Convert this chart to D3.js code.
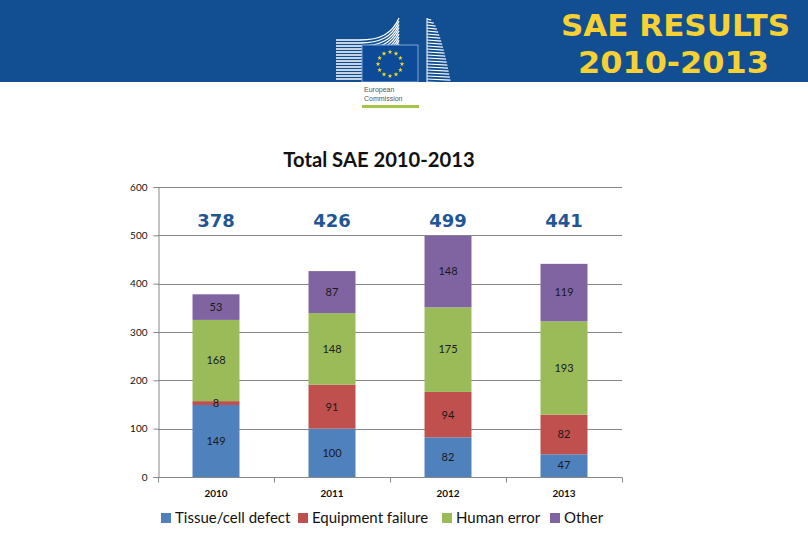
<!DOCTYPE html>
<html><head><meta charset="utf-8">
<script src="https://cdn.jsdelivr.net/npm/d3@7"></script>
<style>body{margin:0;background:#fff}svg{display:block}</style>
</head><body>
<svg id="c" width="808" height="542"></svg>
<script>
const categories = ["2010","2011","2012","2013"];
const seriesNames = ["Tissue/cell defect","Equipment failure","Human error","Other"];
const tissue = [149,100,82,47];
const equipment = [8,91,94,82];
const human = [168,148,175,193];
const other = [53,87,148,119];
const yTicks = [0,100,200,300,400,500,600];
const colors = ["#4F81BD","#C0504D","#9BBB59","#8064A2"];

const svg = d3.select("#c");
// header band
svg.append("rect").attr("x",0).attr("y",0).attr("width",808).attr("height",82).attr("fill","#114F92");
// header title
const ht = svg.append("g").attr("font-family","DejaVu Sans, Verdana, sans-serif").attr("font-weight","bold")
  .attr("fill","#F7D033").attr("text-anchor","middle").attr("font-size",31);
ht.append("text").attr("x",675.5).attr("y",36).attr("textLength",229).attr("lengthAdjust","spacingAndGlyphs").text("SAE RESULTS");
ht.append("text").attr("x",673.5).attr("y",73).attr("textLength",191).attr("lengthAdjust","spacingAndGlyphs").text("2010-2013");

// logo
const logo = svg.append("g");
for(let i=0;i<14;i++){
  const yl = 40 + i*3;
  const yr = 18 + i*3.2;
  logo.append("path").attr("d",`M336,${yl} L360,${yl} C380,${yl} 392,${yl-6} 399,${yr}`)
    .attr("fill","none").attr("stroke","#fff").attr("stroke-width",1.3);
}
for(let i=0;i<22;i++){
  const yy = 19 + i*3;
  const t = (yy-18)/64;
  const xr = 429 + 22*Math.pow(t,0.55);
  logo.append("line").attr("x1",427).attr("x2",xr).attr("y1",yy).attr("y2",yy+1.2).attr("stroke","#fff").attr("stroke-width",1.2);
}
logo.append("line").attr("x1",427).attr("x2",427).attr("y1",18).attr("y2",82).attr("stroke","#fff").attr("stroke-width",1);
logo.append("rect").attr("x",362).attr("y",45).attr("width",56).attr("height",37).attr("fill","#0D4A98").attr("stroke","#7FA6D6").attr("stroke-width",1);
const starPath = d3.symbol().type(d3.symbolStar).size(7)();
for(let k=0;k<12;k++){
  const a = k*Math.PI/6;
  logo.append("path").attr("d",starPath).attr("fill","#F5E021")
    .attr("transform",`translate(${390+12*Math.sin(a)},${64-12*Math.cos(a)})`);
}
svg.append("rect").attr("x",0).attr("y",82).attr("width",808).attr("height",1).attr("fill","#fff");
const lt = svg.append("g").attr("font-family","Liberation Sans, Arial, sans-serif").attr("font-size",7).attr("fill","#555");
lt.append("text").attr("x",364).attr("y",92).text("European");
lt.append("text").attr("x",364).attr("y",101).text("Commission");
svg.append("rect").attr("x",362).attr("y",105).attr("width",57).attr("height",3).attr("fill","#A6C448");

// chart title
svg.append("text").attr("x",379).attr("y",167).attr("text-anchor","middle")
  .attr("font-family","Lato, Open Sans, sans-serif").attr("font-weight","bold").attr("font-size",20.2)
  .attr("fill","#111").text("Total SAE 2010-2013");

// scales
const x = d3.scaleBand().domain(categories).range([158,622]).paddingInner(0.595).paddingOuter(0.2975);
const y = d3.scaleLinear().domain([0,600]).range([477,187]);

// gridlines
svg.append("g").selectAll("line").data(yTicks.filter(d=>d>0)).join("line")
  .attr("x1",158).attr("x2",622).attr("y1",d=>Math.round(y(d))+0.5).attr("y2",d=>Math.round(y(d))+0.5)
  .attr("stroke","#878787").attr("stroke-width",1);

// stacked data
const rows = categories.map((c,i)=>({cat:c, s0:tissue[i], s1:equipment[i], s2:human[i], s3:other[i]}));
const stack = d3.stack().keys(["s0","s1","s2","s3"])(rows);

const layers = svg.append("g").selectAll("g").data(stack).join("g").attr("fill",(d,i)=>colors[i]);
layers.selectAll("rect").data(d=>d).join("rect")
  .attr("x",d=>x(d.data.cat)).attr("width",x.bandwidth())
  .attr("y",d=>y(d[1])).attr("height",d=>y(d[0])-y(d[1]));

// segment labels
const lab = svg.append("g").attr("font-family","Lato, Open Sans, sans-serif").attr("font-size",11).attr("fill","#1a1a1a").attr("text-anchor","middle");
stack.forEach(layer=>{
  layer.forEach(d=>{
    lab.append("text").attr("x",x(d.data.cat)+x.bandwidth()/2)
      .attr("y",(y(d[0])+y(d[1]))/2).attr("dy","0.35em").text(d[1]-d[0]);
  });
});

// totals
svg.append("g").selectAll("text").data(rows).join("text")
  .attr("x",d=>x(d.cat)+x.bandwidth()/2).attr("y",227).attr("text-anchor","middle")
  .attr("font-family","DejaVu Sans, Verdana, sans-serif").attr("font-weight","bold").attr("font-size",18)
  .attr("fill","#1F5796").text(d=>d.s0+d.s1+d.s2+d.s3);

// y axis
const yAxis = d3.axisLeft(y).tickValues(yTicks).tickSize(5).tickPadding(6);
const ya = svg.append("g").attr("transform","translate(158.5,0)").call(yAxis);
ya.select(".domain").attr("stroke","#878787");
ya.selectAll(".tick line").attr("stroke","#878787");
ya.selectAll("text").attr("font-family","Lato, Open Sans, sans-serif").attr("font-size",10).attr("fill","#111");

// x axis
const xa = svg.append("g").attr("transform","translate(0,477.5)");
xa.append("line").attr("x1",158).attr("x2",622).attr("stroke","#878787");
const bounds = categories.map(c=>x(c)-x.step()*x.paddingOuter()).concat([622]);
xa.selectAll("line.tk").data(bounds).join("line").attr("class","tk")
  .attr("x1",d=>Math.round(d)+0.5).attr("x2",d=>Math.round(d)+0.5).attr("y1",0).attr("y2",5).attr("stroke","#878787");
xa.selectAll("text").data(categories).join("text")
  .attr("x",d=>x(d)+x.bandwidth()/2).attr("y",19).attr("text-anchor","middle")
  .attr("font-family","Lato, Open Sans, sans-serif").attr("font-weight","bold").attr("font-size",10).attr("fill","#111").text(d=>d);

// legend
const legX = [161,298,442,550];
const lg = svg.append("g").selectAll("g").data(seriesNames).join("g")
  .attr("transform",(d,i)=>`translate(${legX[i]},513)`);
lg.append("rect").attr("width",10).attr("height",10).attr("fill",(d,i)=>colors[i]);
lg.append("text").attr("x",14).attr("y",10).attr("font-family","Lato, Open Sans, sans-serif").attr("font-size",15).attr("fill","#111").text(d=>d);
</script>
</body></html>
